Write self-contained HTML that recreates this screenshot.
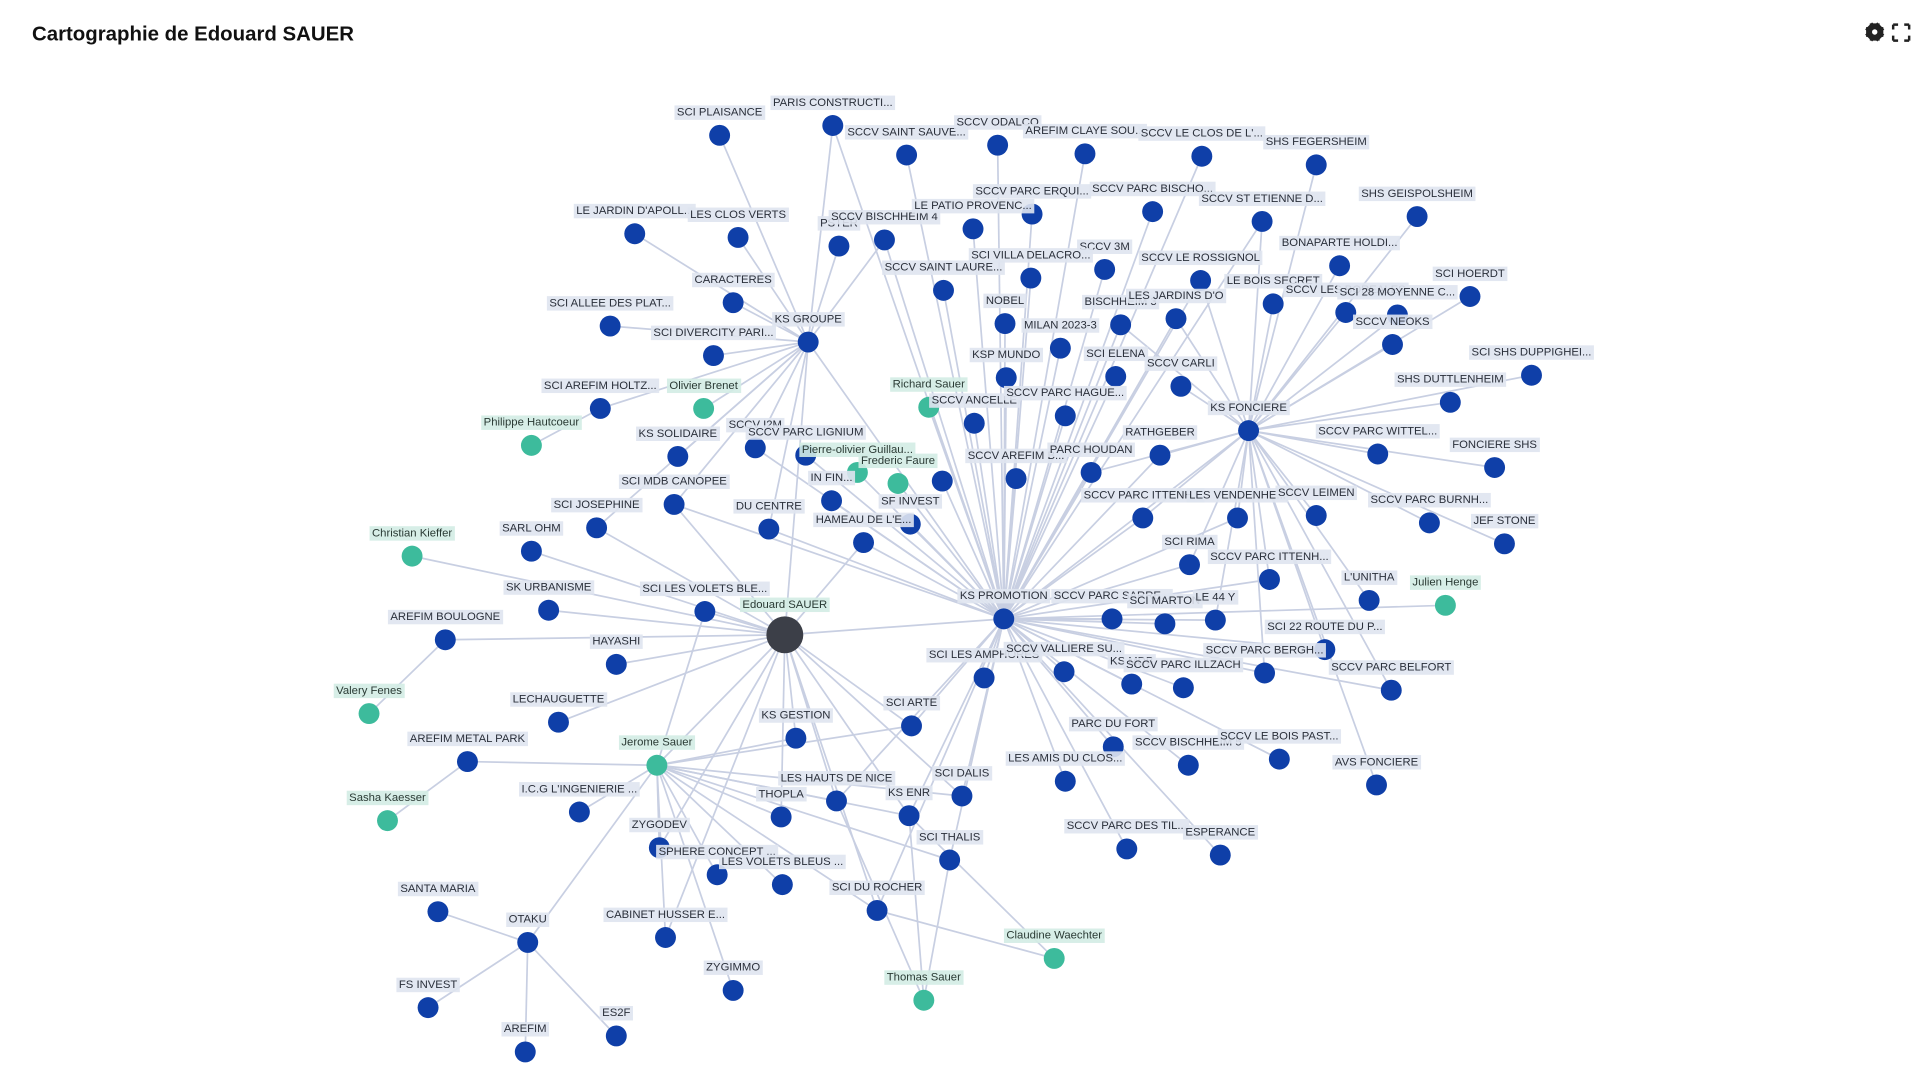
<!DOCTYPE html>
<html><head><meta charset="utf-8"><style>
html,body{margin:0;padding:0;background:#fff;width:1919px;height:1079px;overflow:hidden}
svg{display:block}
.e line{stroke:#c8cfe2;stroke-width:1.4}
.t text{font-family:"Liberation Sans",sans-serif;font-size:9.2px;fill:#2a2f3a;text-anchor:middle}
.t text.pp{fill:#2a3a34}
</style></head><body>
<svg width="1919" height="1079" viewBox="0 0 1560 877" preserveAspectRatio="none">
<text x="26" y="33" font-family="Liberation Sans,sans-serif" font-size="16.6" font-weight="bold" fill="#111">Cartographie de Edouard SAUER</text>
<g fill="#222"><circle cx="1524" cy="26" r="5"/><rect x="1520" y="19" width="8" height="14" /><rect x="1517" y="22" width="14" height="8"/><rect x="1520" y="19" width="8" height="14" transform="rotate(45 1524 26)"/><rect x="1520" y="19" width="8" height="14" transform="rotate(-45 1524 26)"/><circle cx="1524" cy="26" r="2.2" fill="#fff"/>
<path d="M1539 20h4M1539 20v4M1552 20h-4M1552 20v4M1539 33h4M1539 33v-4M1552 33h-4M1552 33v-4" stroke="#222" stroke-width="2" fill="none"/></g>
<g class="e">
<line x1="816" y1="503" x2="677" y2="102"/><line x1="816" y1="503" x2="737" y2="126"/><line x1="816" y1="503" x2="811" y2="118"/><line x1="816" y1="503" x2="882" y2="125"/><line x1="816" y1="503" x2="977" y2="127"/><line x1="816" y1="503" x2="839" y2="174"/><line x1="816" y1="503" x2="937" y2="172"/><line x1="816" y1="503" x2="1026" y2="180"/><line x1="816" y1="503" x2="719" y2="195"/><line x1="816" y1="503" x2="791" y2="186"/><line x1="816" y1="503" x2="898" y2="219"/><line x1="816" y1="503" x2="838" y2="226"/><line x1="816" y1="503" x2="976" y2="228"/><line x1="816" y1="503" x2="767" y2="236"/><line x1="816" y1="503" x2="817" y2="263"/><line x1="816" y1="503" x2="911" y2="264"/><line x1="816" y1="503" x2="956" y2="259"/><line x1="816" y1="503" x2="862" y2="283"/><line x1="816" y1="503" x2="818" y2="307"/><line x1="816" y1="503" x2="907" y2="306"/><line x1="816" y1="503" x2="755" y2="331"/><line x1="816" y1="503" x2="792" y2="344"/><line x1="816" y1="503" x2="866" y2="338"/><line x1="816" y1="503" x2="614" y2="364"/><line x1="816" y1="503" x2="655" y2="370"/><line x1="816" y1="503" x2="697" y2="384"/><line x1="816" y1="503" x2="730" y2="393"/><line x1="816" y1="503" x2="676" y2="407"/><line x1="816" y1="503" x2="740" y2="426"/><line x1="816" y1="503" x2="702" y2="441"/><line x1="816" y1="503" x2="625" y2="430"/><line x1="816" y1="503" x2="766" y2="391"/><line x1="816" y1="503" x2="826" y2="389"/><line x1="816" y1="503" x2="887" y2="384"/><line x1="816" y1="503" x2="943" y2="370"/><line x1="816" y1="503" x2="548" y2="410"/><line x1="816" y1="503" x2="929" y2="421"/><line x1="816" y1="503" x2="1015" y2="350"/><line x1="816" y1="503" x2="967" y2="459"/><line x1="816" y1="503" x2="904" y2="503"/><line x1="816" y1="503" x2="947" y2="507"/><line x1="816" y1="503" x2="988" y2="504"/><line x1="816" y1="503" x2="1077" y2="528"/><line x1="816" y1="503" x2="800" y2="551"/><line x1="816" y1="503" x2="865" y2="546"/><line x1="816" y1="503" x2="920" y2="556"/><line x1="816" y1="503" x2="962" y2="559"/><line x1="816" y1="503" x2="1028" y2="547"/><line x1="816" y1="503" x2="1131" y2="561"/><line x1="816" y1="503" x2="1175" y2="492"/><line x1="816" y1="503" x2="741" y2="590"/><line x1="816" y1="503" x2="905" y2="607"/><line x1="816" y1="503" x2="966" y2="622"/><line x1="816" y1="503" x2="1040" y2="617"/><line x1="816" y1="503" x2="866" y2="635"/><line x1="816" y1="503" x2="680" y2="651"/><line x1="816" y1="503" x2="739" y2="663"/><line x1="816" y1="503" x2="782" y2="647"/><line x1="816" y1="503" x2="772" y2="699"/><line x1="816" y1="503" x2="916" y2="690"/><line x1="816" y1="503" x2="992" y2="695"/><line x1="816" y1="503" x2="713" y2="740"/><line x1="816" y1="503" x2="638" y2="516"/><line x1="816" y1="503" x2="1032" y2="471"/><line x1="816" y1="503" x2="1006" y2="421"/>
<line x1="1015" y1="350" x2="1070" y2="134"/><line x1="1015" y1="350" x2="1026" y2="180"/><line x1="1015" y1="350" x2="1152" y2="176"/><line x1="1015" y1="350" x2="1089" y2="216"/><line x1="1015" y1="350" x2="1195" y2="241"/><line x1="1015" y1="350" x2="1035" y2="247"/><line x1="1015" y1="350" x2="1094" y2="254"/><line x1="1015" y1="350" x2="1136" y2="256"/><line x1="1015" y1="350" x2="1132" y2="280"/><line x1="1015" y1="350" x2="960" y2="314"/><line x1="1015" y1="350" x2="1245" y2="305"/><line x1="1015" y1="350" x2="1179" y2="327"/><line x1="1015" y1="350" x2="943" y2="370"/><line x1="1015" y1="350" x2="1120" y2="369"/><line x1="1015" y1="350" x2="1215" y2="380"/><line x1="1015" y1="350" x2="1006" y2="421"/><line x1="1015" y1="350" x2="1070" y2="419"/><line x1="1015" y1="350" x2="1162" y2="425"/><line x1="1015" y1="350" x2="1223" y2="442"/><line x1="1015" y1="350" x2="1032" y2="471"/><line x1="1015" y1="350" x2="1113" y2="488"/><line x1="1015" y1="350" x2="1119" y2="638"/><line x1="1015" y1="350" x2="976" y2="228"/><line x1="1015" y1="350" x2="956" y2="259"/><line x1="1015" y1="350" x2="911" y2="264"/><line x1="1015" y1="350" x2="1077" y2="528"/><line x1="1015" y1="350" x2="1131" y2="561"/><line x1="1015" y1="350" x2="1028" y2="547"/><line x1="1015" y1="350" x2="988" y2="504"/><line x1="1015" y1="350" x2="967" y2="459"/><line x1="1015" y1="350" x2="929" y2="421"/><line x1="1015" y1="350" x2="887" y2="384"/>
<line x1="657" y1="278" x2="585" y2="110"/><line x1="657" y1="278" x2="516" y2="190"/><line x1="657" y1="278" x2="600" y2="193"/><line x1="657" y1="278" x2="682" y2="200"/><line x1="657" y1="278" x2="677" y2="102"/><line x1="657" y1="278" x2="596" y2="246"/><line x1="657" y1="278" x2="496" y2="265"/><line x1="657" y1="278" x2="580" y2="289"/><line x1="657" y1="278" x2="488" y2="332"/><line x1="657" y1="278" x2="572" y2="332"/><line x1="657" y1="278" x2="551" y2="371"/><line x1="657" y1="278" x2="614" y2="364"/><line x1="657" y1="278" x2="548" y2="410"/><line x1="657" y1="278" x2="485" y2="429"/><line x1="657" y1="278" x2="638" y2="516"/><line x1="657" y1="278" x2="816" y2="503"/><line x1="657" y1="278" x2="719" y2="195"/><line x1="657" y1="278" x2="625" y2="430"/>
<line x1="638" y1="516" x2="432" y2="448"/><line x1="638" y1="516" x2="335" y2="452"/><line x1="638" y1="516" x2="446" y2="496"/><line x1="638" y1="516" x2="573" y2="497"/><line x1="638" y1="516" x2="362" y2="520"/><line x1="638" y1="516" x2="501" y2="540"/><line x1="638" y1="516" x2="454" y2="587"/><line x1="638" y1="516" x2="647" y2="600"/><line x1="638" y1="516" x2="741" y2="590"/><line x1="638" y1="516" x2="534" y2="622"/><line x1="638" y1="516" x2="485" y2="429"/><line x1="638" y1="516" x2="548" y2="410"/><line x1="638" y1="516" x2="702" y2="441"/><line x1="638" y1="516" x2="680" y2="651"/><line x1="638" y1="516" x2="739" y2="663"/><line x1="638" y1="516" x2="782" y2="647"/><line x1="638" y1="516" x2="713" y2="740"/><line x1="638" y1="516" x2="635" y2="664"/><line x1="638" y1="516" x2="536" y2="689"/><line x1="638" y1="516" x2="541" y2="762"/>
<line x1="534" y1="622" x2="380" y2="619"/><line x1="534" y1="622" x2="471" y2="660"/><line x1="534" y1="622" x2="635" y2="664"/><line x1="534" y1="622" x2="680" y2="651"/><line x1="534" y1="622" x2="739" y2="663"/><line x1="534" y1="622" x2="782" y2="647"/><line x1="534" y1="622" x2="536" y2="689"/><line x1="534" y1="622" x2="583" y2="711"/><line x1="534" y1="622" x2="636" y2="719"/><line x1="534" y1="622" x2="429" y2="766"/><line x1="534" y1="622" x2="541" y2="762"/><line x1="534" y1="622" x2="713" y2="740"/><line x1="534" y1="622" x2="596" y2="805"/><line x1="534" y1="622" x2="647" y2="600"/><line x1="534" y1="622" x2="741" y2="590"/><line x1="534" y1="622" x2="573" y2="497"/><line x1="534" y1="622" x2="772" y2="699"/>
<line x1="429" y1="766" x2="356" y2="741"/><line x1="429" y1="766" x2="348" y2="819"/><line x1="429" y1="766" x2="501" y2="842"/><line x1="429" y1="766" x2="427" y2="855"/>
<line x1="300" y1="580" x2="362" y2="520"/><line x1="315" y1="667" x2="380" y2="619"/><line x1="432" y1="362" x2="488" y2="332"/>
<line x1="857" y1="779" x2="713" y2="740"/><line x1="857" y1="779" x2="739" y2="663"/><line x1="751" y1="813" x2="772" y2="699"/><line x1="751" y1="813" x2="739" y2="663"/><line x1="751" y1="813" x2="680" y2="651"/>
</g>
<g id="nodes"></g>
<g class="t" id="labels">
<text x="585" y="110">SCI PLAISANCE</text><text x="677" y="102">PARIS CONSTRUCTI...</text><text x="737" y="126">SCCV SAINT SAUVE...</text><text x="811" y="118">SCCV ODALCO</text><text x="882" y="125">AREFIM CLAYE SOU...</text><text x="977" y="127">SCCV LE CLOS DE L'...</text><text x="1070" y="134">SHS FEGERSHEIM</text><text x="839" y="174">SCCV PARC ERQUI...</text><text x="937" y="172">SCCV PARC BISCHO...</text><text x="1026" y="180">SCCV ST ETIENNE D...</text><text x="1152" y="176">SHS GEISPOLSHEIM</text><text x="516" y="190">LE JARDIN D'APOLL...</text><text x="600" y="193">LES CLOS VERTS</text><text x="682" y="200">PSTER</text><text x="719" y="195">SCCV BISCHHEIM 4</text><text x="791" y="186">LE PATIO PROVENC...</text><text x="898" y="219">SCCV 3M</text><text x="838" y="226">SCI VILLA DELACRO...</text><text x="976" y="228">SCCV LE ROSSIGNOL</text><text x="1089" y="216">BONAPARTE HOLDI...</text><text x="1195" y="241">SCI HOERDT</text><text x="596" y="246">CARACTERES</text><text x="767" y="236">SCCV SAINT LAURE...</text><text x="817" y="263">NOBEL</text><text x="911" y="264">BISCHHEIM 3</text><text x="956" y="259">LES JARDINS D'O</text><text x="1035" y="247">LE BOIS SECRET</text><text x="1094" y="254">SCCV LES BOREALES</text><text x="1136" y="256">SCI 28 MOYENNE C...</text><text x="1132" y="280">SCCV NEOKS</text><text x="496" y="265">SCI ALLEE DES PLAT...</text><text x="580" y="289">SCI DIVERCITY PARI...</text><text x="657" y="278">KS GROUPE</text><text x="862" y="283">MILAN 2023-3</text><text x="818" y="307">KSP MUNDO</text><text x="907" y="306">SCI ELENA</text><text x="960" y="314">SCCV CARLI</text><text x="1245" y="305">SCI SHS DUPPIGHEI...</text><text x="1179" y="327">SHS DUTTLENHEIM</text><text x="488" y="332">SCI AREFIM HOLTZ...</text><text x="792" y="344">SCCV ANCELLE</text><text x="866" y="338">SCCV PARC HAGUE...</text><text x="1015" y="350">KS FONCIERE</text><text x="551" y="371">KS SOLIDAIRE</text><text x="614" y="364">SCCV I2M</text><text x="655" y="370">SCCV PARC LIGNIUM</text><text x="676" y="407">IN FIN...</text><text x="826" y="389">SCCV AREFIM B...</text><text x="887" y="384">PARC HOUDAN</text><text x="943" y="370">RATHGEBER</text><text x="1120" y="369">SCCV PARC WITTEL...</text><text x="1215" y="380">FONCIERE SHS</text><text x="548" y="410">SCI MDB CANOPEE</text><text x="485" y="429">SCI JOSEPHINE</text><text x="625" y="430">DU CENTRE</text><text x="740" y="426">SF INVEST</text><text x="702" y="441">HAMEAU DE L'E...</text><text x="929" y="421">SCCV PARC ITTENH...</text><text x="1006" y="421">LES VENDENHE...</text><text x="1070" y="419">SCCV LEIMEN</text><text x="1162" y="425">SCCV PARC BURNH...</text><text x="1223" y="442">JEF STONE</text><text x="432" y="448">SARL OHM</text><text x="967" y="459">SCI RIMA</text><text x="1032" y="471">SCCV PARC ITTENH...</text><text x="1113" y="488">L'UNITHA</text><text x="446" y="496">SK URBANISME</text><text x="573" y="497">SCI LES VOLETS BLE...</text><text x="816" y="503">KS PROMOTION</text><text x="904" y="503">SCCV PARC SARRE...</text><text x="947" y="507">SCI MARTON</text><text x="988" y="504">LE 44 Y</text><text x="1077" y="528">SCI 22 ROUTE DU P...</text><text x="362" y="520">AREFIM BOULOGNE</text><text x="501" y="540">HAYASHI</text><text x="800" y="551">SCI LES AMPHORES</text><text x="865" y="546">SCCV VALLIERE SU...</text><text x="920" y="556">KS MDB</text><text x="962" y="559">SCCV PARC ILLZACH</text><text x="1028" y="547">SCCV PARC BERGH...</text><text x="1131" y="561">SCCV PARC BELFORT</text><text x="454" y="587">LECHAUGUETTE</text><text x="647" y="600">KS GESTION</text><text x="741" y="590">SCI ARTE</text><text x="380" y="619">AREFIM METAL PARK</text><text x="905" y="607">PARC DU FORT</text><text x="966" y="622">SCCV BISCHHEIM 5</text><text x="1040" y="617">SCCV LE BOIS PAST...</text><text x="1119" y="638">AVS FONCIERE</text><text x="866" y="635">LES AMIS DU CLOS...</text><text x="471" y="660">I.C.G L'INGENIERIE ...</text><text x="635" y="664">THOPLA</text><text x="680" y="651">LES HAUTS DE NICE</text><text x="739" y="663">KS ENR</text><text x="782" y="647">SCI DALIS</text><text x="536" y="689">ZYGODEV</text><text x="583" y="711">SPHERE CONCEPT ...</text><text x="636" y="719">LES VOLETS BLEUS ...</text><text x="772" y="699">SCI THALIS</text><text x="916" y="690">SCCV PARC DES TIL...</text><text x="992" y="695">ESPERANCE</text><text x="356" y="741">SANTA MARIA</text><text x="429" y="766">OTAKU</text><text x="541" y="762">CABINET HUSSER E...</text><text x="713" y="740">SCI DU ROCHER</text><text x="596" y="805">ZYGIMMO</text><text x="348" y="819">FS INVEST</text><text x="501" y="842">ES2F</text><text x="427" y="855">AREFIM</text>
<text x="766" y="391" class="nl"></text>
<text class="pp" x="572" y="332">Olivier Brenet</text><text class="pp" x="755" y="331">Richard Sauer</text><text class="pp" x="432" y="362">Philippe Hautcoeur</text><text class="pp" x="697" y="384">Pierre-olivier Guillau...</text><text class="pp" x="730" y="393">Frederic Faure</text><text class="pp" x="335" y="452">Christian Kieffer</text><text class="pp" x="1175" y="492">Julien Henge</text><text class="pp" x="300" y="580">Valery Fenes</text><text class="pp" x="534" y="622">Jerome Sauer</text><text class="pp" x="315" y="667">Sasha Kaesser</text><text class="pp" x="857" y="779">Claudine Waechter</text><text class="pp" x="751" y="813">Thomas Sauer</text><text class="pp" x="638" y="516">Edouard SAUER</text>
</g>
</svg>
<script>
(function(){
var NS="http://www.w3.org/2000/svg",lab=document.getElementById("labels"),nodes=document.getElementById("nodes");
var ts=Array.prototype.slice.call(lab.querySelectorAll("text"));
ts.forEach(function(t){
 var x=+t.getAttribute("x"),y=+t.getAttribute("y"),pp=t.classList.contains("pp");
 var ed=t.textContent==="Edouard SAUER";
 var c=document.createElementNS(NS,"circle");c.setAttribute("cx",x);c.setAttribute("cy",y);
 c.setAttribute("r",ed?15:8.5);c.setAttribute("fill",ed?"#3c3f48":(pp?"#3dbb9c":"#0f3fa8"));
 nodes.appendChild(c);
 if(!t.textContent){t.remove();return;}
 t.setAttribute("y",y-(ed?22:16));
});
ts.forEach(function(t){
 if(!t.parentNode)return;
 var b=t.getBBox(),r=document.createElementNS(NS,"rect");
 r.setAttribute("x",b.x-2);r.setAttribute("y",b.y-1);r.setAttribute("width",b.width+4);r.setAttribute("height",b.height+2);
 r.setAttribute("fill",t.classList.contains("pp")?"#d3ece4":"#dfe4ef");r.setAttribute("opacity","0.9");
 lab.insertBefore(r,t);
});
})();
</script>
</body></html>
